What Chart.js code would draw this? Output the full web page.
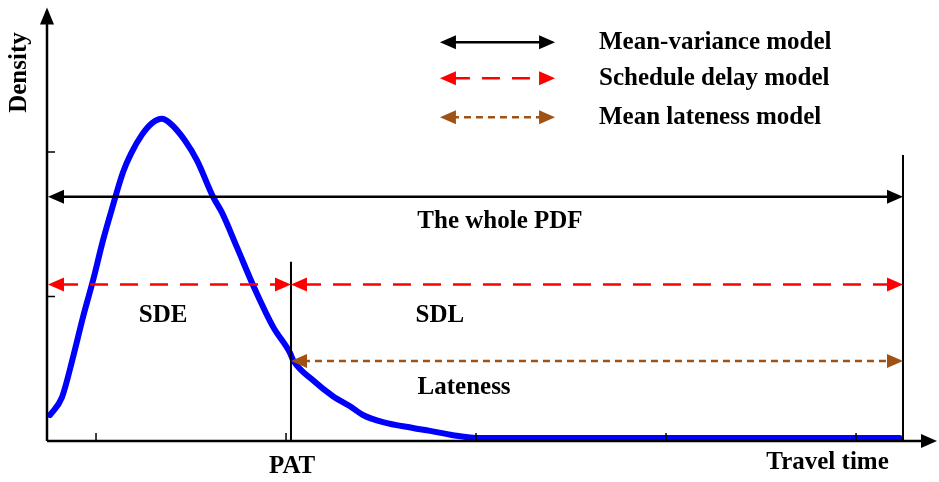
<!DOCTYPE html>
<html>
<head>
<meta charset="utf-8">
<script src="https://cdn.jsdelivr.net/npm/chart.js@4.4.1/dist/chart.umd.min.js"></script>
<style>
  html, body { margin: 0; padding: 0; background: #fff; }
  #wrap { width: 939px; height: 482px; }
</style>
</head>
<body>
<div id="wrap"><canvas id="grafico"></canvas></div>
<script>
// curva de densidad (tiempo de viaje, densidad)
const tiempos = [-2.42, -1.8, -1.21, -0.68, -0.16, 0.37, 0.89, 1.42, 1.85, 2.42, 2.95, 3.47, 3.89, 4.68, 5.32, 6.16, 6.63, 7.42, 8.26, 9.32, 10.21, 10.37, 11.42, 12.47, 13.37, 14.05, 15.1, 16.68, 17.58, 18.79, 20.2, 24, 30, 36, 42.3];
const densidad = [0.18, 0.30, 0.58, 0.86, 1.11, 1.39, 1.63, 1.86, 1.99, 2.12, 2.20, 2.23, 2.20, 2.08, 1.94, 1.69, 1.58, 1.34, 1.08, 0.79, 0.61, 0.56, 0.42, 0.31, 0.24, 0.18, 0.13, 0.09, 0.07, 0.04, 0.02, 0.02, 0.02, 0.02, 0.02];

const ticksX = [0, 10, 20, 30, 40];
const ticksY = [1, 2];
const PAT = 10.26;
const finPDF = 42.47;

const leyendaTextos = ['Mean-variance model', 'Schedule delay model', 'Mean lateness model'];
const leyendaColores = ['#000000', '#ff0000', '#a05214'];
const leyendaGuiones = [[], [18, 12], [7, 5]];

const fuente = 'bold 25px "Liberation Serif", "Times New Roman", serif';

function flecha(ctx, x, y, dir, color, largo, ancho) {
    ctx.fillStyle = color;
    ctx.beginPath();
    ctx.moveTo(x, y);
    ctx.lineTo(x - dir * largo, y - ancho);
    ctx.lineTo(x - dir * largo, y + ancho);
    ctx.closePath();
    ctx.fill();
}

// linea horizontal con flechas en ambos extremos
function dobleFlecha(ctx, x1, x2, y, color, guion) {
    ctx.save();
    ctx.strokeStyle = color;
    ctx.lineWidth = 2.5;
    ctx.setLineDash(guion);
    ctx.beginPath();
    ctx.moveTo(x1 + 12, y);
    ctx.lineTo(x2 - 12, y);
    ctx.stroke();
    ctx.setLineDash([]);
    flecha(ctx, x1, y, -1, color, 16, 7);
    flecha(ctx, x2, y, 1, color, 16, 7);
    ctx.restore();
}

function texto(ctx, t, x, y, alin) {
    ctx.fillStyle = '#000';
    ctx.font = fuente;
    ctx.textAlign = alin || 'center';
    ctx.textBaseline = 'middle';
    ctx.fillText(t, x, y);
}

const dibujoEjes = {
    id: 'dibujoEjes',
    afterDatasetsDraw(chart) {
        const ctx = chart.ctx;
        const sx = chart.scales.x;
        const sy = chart.scales.y;
        const area = chart.chartArea;
        const x0 = sx.getPixelForValue(sx.min);
        const y0 = sy.getPixelForValue(0);

        ctx.save();
        ctx.strokeStyle = '#000';
        ctx.lineWidth = 2.5;
        // ejes
        ctx.beginPath();
        ctx.moveTo(x0, y0);
        ctx.lineTo(area.right - 12, y0);
        ctx.moveTo(x0, y0);
        ctx.lineTo(x0, area.top + 12);
        ctx.stroke();
        flecha(ctx, area.right, y0, 1, '#000', 16, 7);
        ctx.fillStyle = '#000';
        ctx.beginPath();
        ctx.moveTo(x0, area.top);
        ctx.lineTo(x0 - 7, area.top + 17);
        ctx.lineTo(x0 + 7, area.top + 17);
        ctx.closePath();
        ctx.fill();

        // marcas hacia adentro
        ctx.lineWidth = 1.5;
        ctx.beginPath();
        ticksX.forEach(v => {
            const p = sx.getPixelForValue(v);
            ctx.moveTo(p, y0);
            ctx.lineTo(p, y0 - 8);
        });
        ticksY.forEach(v => {
            const p = sy.getPixelForValue(v);
            ctx.moveTo(x0, p);
            ctx.lineTo(x0 + 8, p);
        });
        ctx.stroke();

        // lineas verticales PAT y final
        ctx.lineWidth = 2;
        ctx.beginPath();
        ctx.moveTo(sx.getPixelForValue(PAT), y0);
        ctx.lineTo(sx.getPixelForValue(PAT), sy.getPixelForValue(1.24));
        ctx.moveTo(sx.getPixelForValue(finPDF), y0);
        ctx.lineTo(sx.getPixelForValue(finPDF), sy.getPixelForValue(1.98));
        ctx.stroke();

        // flechas de los modelos
        const xa = x0 + 1, xp = sx.getPixelForValue(PAT), xf = sx.getPixelForValue(finPDF);
        dobleFlecha(ctx, xa, xf, sy.getPixelForValue(1.69), leyendaColores[0], leyendaGuiones[0]);
        dobleFlecha(ctx, xa, xp, sy.getPixelForValue(1.083), leyendaColores[1], leyendaGuiones[1]);
        dobleFlecha(ctx, xp, xf, sy.getPixelForValue(1.083), leyendaColores[1], leyendaGuiones[1]);
        dobleFlecha(ctx, xp, xf, sy.getPixelForValue(0.554), leyendaColores[2], leyendaGuiones[2]);

        // leyenda
        const leyendaY = [2.76, 2.51, 2.24];
        leyendaTextos.forEach((t, i) => {
            const ly = sy.getPixelForValue(leyendaY[i]);
            dobleFlecha(ctx, sx.getPixelForValue(18.1), sx.getPixelForValue(24.16), ly, leyendaColores[i], leyendaGuiones[i]);
            texto(ctx, t, sx.getPixelForValue(26.47), ly, 'left');
        });

        // textos
        texto(ctx, 'The whole PDF', sx.getPixelForValue(21.26), sy.getPixelForValue(1.516));
        texto(ctx, 'SDE', sx.getPixelForValue(3.53), sy.getPixelForValue(0.87));
        texto(ctx, 'SDL', sx.getPixelForValue(18.1), sy.getPixelForValue(0.87));
        texto(ctx, 'Lateness', sx.getPixelForValue(19.37), sy.getPixelForValue(0.367));
        texto(ctx, 'PAT', sx.getPixelForValue(10.32), sy.getPixelForValue(-0.18));
        texto(ctx, 'Travel time', sx.getPixelForValue(38.5), sy.getPixelForValue(-0.152));

        ctx.save();
        ctx.translate(sx.getPixelForValue(-4.0), sy.getPixelForValue(2.55));
        ctx.rotate(-Math.PI / 2);
        texto(ctx, 'Density', 0, 0);
        ctx.restore();

        ctx.restore();
    }
};

new Chart(document.getElementById('grafico'), {
    type: 'line',
    data: {
        datasets: [{
            data: tiempos.map((t, i) => ({ x: t, y: densidad[i] })),
            borderColor: '#0000ff',
            borderWidth: 6,
            borderCapStyle: 'round',
            borderJoinStyle: 'round',
            pointRadius: 0,
            cubicInterpolationMode: 'monotone',
            fill: false
        }]
    },
    options: {
        responsive: true,
        maintainAspectRatio: false,
        animation: false,
        events: [],
        layout: { padding: { left: 47, right: 2, top: 7.5, bottom: 41 } },
        plugins: { legend: { display: false }, tooltip: { enabled: false } },
        scales: {
            x: { type: 'linear', min: -2.58, max: 44.26, display: false },
            y: { min: 0, max: 3.0, display: false }
        }
    },
    plugins: [dibujoEjes]
});
</script>
</body>
</html>
